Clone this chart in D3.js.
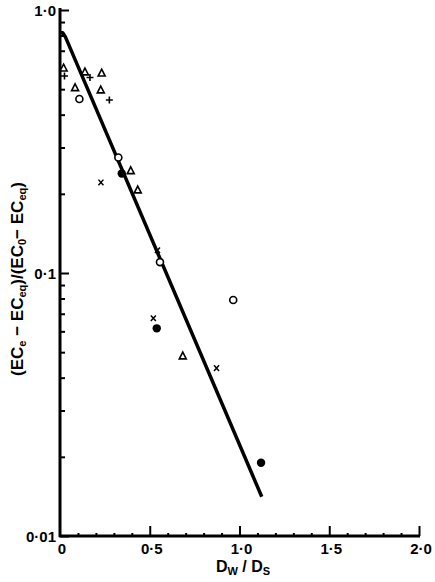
<!DOCTYPE html>
<html><head><meta charset="utf-8">
<script src="https://cdn.jsdelivr.net/npm/d3@7"></script>
<style>body{margin:0;background:#fff}svg{display:block}text{font-family:"Liberation Sans",Arial,sans-serif;font-weight:bold;fill:#000}</style>
</head><body>
<script>
// Data
const xTicks = [0, 0.5, 1.0, 1.5, 2.0];
const xTickLabels = ["0", "0·5", "1·0", "1·5", "2·0"];
const yTicks = [1.0, 0.1, 0.01];
const yTickLabels = ["1·0", "0·1", "0·01"];
const openCircleX = [0.108, 0.325, 0.557, 0.965];
const openCircleY = [0.459, 0.275, 0.110, 0.0789];
const filledCircleX = [0.344, 0.539, 1.120];
const filledCircleY = [0.239, 0.0616, 0.0190];
const triangleX = [0.02, 0.139, 0.232, 0.084, 0.227, 0.394, 0.433, 0.684];
const triangleY = [0.602, 0.582, 0.576, 0.507, 0.497, 0.245, 0.207, 0.0484];
const plusX = [0.025, 0.167, 0.275];
const plusY = [0.561, 0.554, 0.455];
const crossX = [0.228, 0.543, 0.520, 0.872];
const crossY = [0.221, 0.122, 0.0673, 0.0435];
const fitX = [0, 0.015, 0.03, 1.124];
const fitY = [0.82, 0.82, 0.79, 0.0141];

const W = 435, H = 582;
const L = 60, R = 419, T = 10, B = 536;
const svg = d3.select("body").append("svg").attr("width", W).attr("height", H);
const x = d3.scaleLinear().domain([0, 2]).range([L, R]);
const y = d3.scaleLog().domain([0.01, 1]).range([B, T]);

// Y axis
const yMinor = [];
for (let d = 0.01; d < 0.99; d *= 10) for (let k = 2; k <= 9; k++) yMinor.push(+(k * d).toPrecision(3));
const gy = svg.append("g").attr("transform", `translate(${L},0)`);
gy.call(d3.axisRight(y).tickValues(yMinor).tickSize(5).tickFormat(""));
gy.call(g => g.append("g").call(d3.axisRight(y).tickValues(yTicks).tickSize(9).tickFormat("")));
gy.selectAll(".domain").remove();
gy.selectAll("line").attr("stroke", "#000").attr("stroke-width", 2);
svg.append("line").attr("x1", L).attr("x2", L).attr("y1", T - 2).attr("y2", B + 1)
  .attr("stroke", "#000").attr("stroke-width", 3);

// X axis
const xMinor = d3.range(1, 20).map(i => i / 10).filter(v => Math.abs(v * 2 - Math.round(v * 2)) > 1e-6);
const gx = svg.append("g").attr("transform", `translate(0,${B})`);
gx.call(d3.axisTop(x).tickValues(xMinor).tickSize(3).tickFormat(""));
gx.call(g => g.append("g").call(d3.axisTop(x).tickValues(xTicks.slice(1)).tickSize(10).tickFormat("")));
gx.selectAll(".domain").remove();
gx.selectAll("line").attr("stroke", "#000").attr("stroke-width", 2);
svg.append("line").attr("x1", L - 1).attr("x2", R + 1).attr("y1", B).attr("y2", B)
  .attr("stroke", "#000").attr("stroke-width", 3);

// Tick labels
svg.selectAll(".xl").data(xTicks).enter().append("text")
  .attr("x", d => x(d) + 2).attr("y", B + 18).attr("text-anchor", "middle")
  .attr("font-size", 15).text((d, i) => xTickLabels[i]);
svg.selectAll(".yl").data(yTicks).enter().append("text")
  .attr("x", L - 4).attr("y", d => y(d) + 6).attr("text-anchor", "end")
  .attr("font-size", 15).text((d, i) => yTickLabels[i]);

// Axis titles
const xt = svg.append("text").attr("x", 243).attr("y", 572).attr("text-anchor", "middle").attr("font-size", 16);
xt.append("tspan").text("D");
xt.append("tspan").attr("font-size", 11).attr("dy", 3).text("W");
xt.append("tspan").attr("dy", -3).text(" / D");
xt.append("tspan").attr("font-size", 11).attr("dy", 3).text("S");

const yt = svg.append("text").attr("transform", "translate(23,279) rotate(-90)")
  .attr("text-anchor", "middle").attr("font-size", 17);
yt.append("tspan").text("(EC");
yt.append("tspan").attr("font-size", 11).attr("dy", 3).text("e");
yt.append("tspan").attr("dy", -3).text(" − EC");
yt.append("tspan").attr("font-size", 11).attr("dy", 3).text("eq");
yt.append("tspan").attr("dy", -3).text(")/(EC");
yt.append("tspan").attr("font-size", 11).attr("dy", 3).text("0");
yt.append("tspan").attr("dy", -3).text("− EC");
yt.append("tspan").attr("font-size", 11).attr("dy", 3).text("eq");
yt.append("tspan").attr("dy", -3).text(")");

// Fit line
const fit = fitX.map((v, i) => [v, fitY[i]]);
svg.append("path").datum(fit)
  .attr("d", d3.line().x(d => x(d[0])).y(d => y(d[1])))
  .attr("fill", "none").attr("stroke", "#000").attr("stroke-width", 3.5).attr("stroke-linejoin", "round");

// Markers
const zip = (a, b) => a.map((v, i) => [v, b[i]]);
const g = svg.append("g");
g.selectAll(".oc").data(zip(openCircleX, openCircleY)).enter().append("circle")
  .attr("cx", d => x(d[0])).attr("cy", d => y(d[1])).attr("r", 3.5)
  .attr("fill", "#fff").attr("stroke", "#000").attr("stroke-width", 1.6);
g.selectAll(".fc").data(zip(filledCircleX, filledCircleY)).enter().append("circle")
  .attr("cx", d => x(d[0])).attr("cy", d => y(d[1])).attr("r", 4.2).attr("fill", "#000");
g.selectAll(".tr").data(zip(triangleX, triangleY)).enter().append("path")
  .attr("transform", d => `translate(${x(d[0])},${y(d[1])})`)
  .attr("d", "M0,-3.8L3.5,3L-3.5,3Z")
  .attr("fill", "#fff").attr("stroke", "#000").attr("stroke-width", 1.6);
g.selectAll(".pl").data(zip(plusX, plusY)).enter().append("path")
  .attr("transform", d => `translate(${x(d[0])},${y(d[1])})`)
  .attr("d", "M-3.5,0H3.5M0,-3.5V3.5")
  .attr("stroke", "#000").attr("stroke-width", 1.6);
g.selectAll(".cr").data(zip(crossX, crossY)).enter().append("path")
  .attr("transform", d => `translate(${x(d[0])},${y(d[1])})`)
  .attr("d", "M-2.5,-2.8L2.5,2.8M2.5,-2.8L-2.5,2.8")
  .attr("stroke", "#000").attr("stroke-width", 1.5);
</script>
</body></html>
